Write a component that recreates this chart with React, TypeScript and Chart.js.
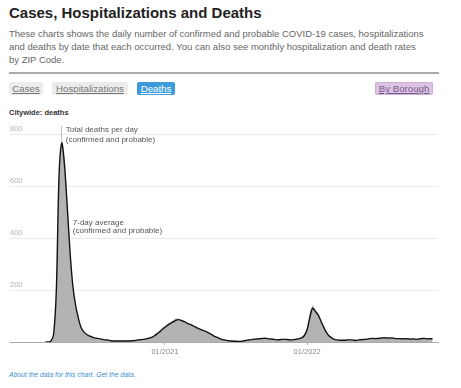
import React, { useEffect, useRef } from "react";
import { Chart, registerables } from "chart.js";

Chart.register(...registerables);

// ---- data ----
const startDate = "2020-02-29"; // first weekly sample
const stepDays = 7;
const avgDeaths = [
  0, 0, 3, 30, 200, 640, 765, 680, 520, 350,
  220, 145, 95, 58, 40, 30, 24, 20, 16, 14,
  12, 10, 8, 7, 5, 4, 4, 4, 4, 4,
  4, 4, 5, 6, 8, 9, 10, 12, 15, 18,
  24, 32, 40, 50, 58, 66, 73, 78, 84, 86,
  82, 78, 72, 68, 63, 58, 52, 48, 44, 40,
  34, 28, 22, 18, 13, 9, 7, 5, 4, 3,
  3, 2, 3, 5, 7, 8, 10, 11, 12, 13,
  14, 14, 12, 11, 10, 8, 9, 10, 10, 9,
  8, 9, 11, 13, 16, 25, 48, 95, 130, 118,
  105, 82, 58, 38, 24, 16, 10, 8, 7, 7,
  7, 8, 8, 7, 6, 8, 9, 10, 11, 13,
  14, 13, 14, 15, 16, 16, 15, 16, 14, 13,
  13, 12, 13, 12, 11, 12, 10, 12, 13, 14,
  12, 13, 12,
];
const dailyDeaths = [
  0, 0, 1, 18, 170, 610, 780, 700, 505, 330,
  205, 130, 85, 52, 36, 27, 22, 18, 14, 12,
  10, 9, 7, 6, 5, 4, 3, 5, 4, 3,
  4, 4, 5, 6, 7, 9, 10, 12, 14, 19,
  25, 33, 41, 52, 60, 70, 76, 84, 92, 85,
  86, 76, 74, 66, 64, 56, 52, 46, 43, 38,
  32, 27, 20, 16, 12, 8, 6, 5, 4, 3,
  3, 2, 3, 5, 6, 8, 10, 10, 12, 12,
  13, 14, 11, 11, 9, 8, 9, 9, 10, 8,
  8, 9, 10, 12, 15, 24, 52, 110, 142, 122,
  106, 80, 55, 35, 22, 15, 9, 7, 7, 6,
  7, 7, 8, 7, 6, 7, 8, 9, 11, 12,
  13, 13, 13, 14, 15, 15, 14, 15, 14, 12,
  12, 12, 12, 11, 11, 11, 10, 11, 12, 13,
  12, 12, 11,
];
const axisStart = "2019-11-30";
const axisEnd = "2022-12-03";
const xTickDates = ["2021-01-01", "2022-01-01"];
const xTickLabels = ["01/2021", "01/2022"];
const yTicks = [0, 200, 400, 600, 800];
const annotTotal = ["Total deaths per day", "(confirmed and probable)"];
const annotAvg = ["7-day average", "(confirmed and probable)"];
const avgLabelLevel = 460;

const DAY = 86400000;
const base = Date.UTC(2020, 0, 1);
function dayNum(s: string): number {
  const [y, m, d] = s.split("-").map(Number);
  return Math.round((Date.UTC(y, m - 1, d) - base) / DAY);
}

const FONT = '"Liberation Sans", Arial, sans-serif';

function ChartCanvas() {
  const ref = useRef<HTMLCanvasElement | null>(null);
  useEffect(() => {
    if (!ref.current) return;
    const s0 = dayNum(startDate);
    const avgPts = avgDeaths.map((v, i) => ({ x: s0 + i * stepDays, y: v }));
    const dailyPts = dailyDeaths.map((v, i) => ({ x: s0 + i * stepDays, y: v }));
    const tickVals = xTickDates.map(dayNum);

    const annot = {
      id: "annot",
      afterDatasetsDraw(chart: any) {
        const { ctx, chartArea, scales } = chart;
        const xs = scales.x, ys = scales.y;
        let pk = 0;
        dailyDeaths.forEach((v, i) => { if (v > dailyDeaths[pk]) pk = i; });
        const px = xs.getPixelForValue(s0 + pk * stepDays);
        const py = ys.getPixelForValue(dailyDeaths[pk]);
        ctx.save();
        ctx.strokeStyle = "#bdbdbd";
        ctx.lineWidth = 1;
        ctx.beginPath();
        ctx.moveTo(Math.round(px) - 0.5, chartArea.top - 8);
        ctx.lineTo(Math.round(px) - 0.5, py);
        ctx.stroke();
        ctx.fillStyle = "#555";
        ctx.font = `8px ${FONT}`;
        ctx.textAlign = "left";
        ctx.textBaseline = "middle";
        ctx.fillText(annotTotal[0], px + 4, chartArea.top - 4);
        ctx.fillText(annotTotal[1], px + 4, chartArea.top + 5.5);
        const ay = ys.getPixelForValue(avgLabelLevel);
        ctx.fillText(annotAvg[0], px + 11, ay);
        ctx.fillText(annotAvg[1], px + 11, ay + 8.5);
        ctx.restore();
      },
    };

    const chart = new Chart(ref.current, {
      type: "line",
      data: {
        datasets: [
          {
            label: "7-day average",
            data: avgPts,
            borderColor: "#111",
            borderWidth: 1.4,
            tension: 0.3,
            pointRadius: 0,
            fill: false,
            order: 0,
          },
          {
            label: "Total deaths per day",
            data: dailyPts,
            borderColor: "#c4c4c4",
            borderWidth: 0.6,
            backgroundColor: "#b3b3b3",
            tension: 0,
            pointRadius: 0,
            fill: "origin",
            order: 1,
          },
        ],
      },
      options: {
        animation: false,
        responsive: false,
        maintainAspectRatio: false,
        layout: { padding: { left: 10, right: 23, top: 14, bottom: 0 } },
        plugins: { legend: { display: false }, tooltip: { enabled: false } },
        scales: {
          x: {
            type: "linear",
            min: dayNum(axisStart),
            max: dayNum(axisEnd),
            afterBuildTicks: (sc: any) => {
              sc.ticks = tickVals.map((v) => ({ value: v }));
            },
            afterFit: (sc: any) => { sc.height = 28; },
            ticks: {
              autoSkip: false,
              maxRotation: 0,
              padding: 2,
              color: "#888",
              font: { size: 7.5, family: FONT },
              callback: (v: any) => {
                const i = tickVals.indexOf(Number(v));
                return i >= 0 ? xTickLabels[i] : "";
              },
            },
            grid: { display: true, drawOnChartArea: false, drawTicks: true, tickLength: 3, color: "#aaa" },
            border: { display: true, color: "#aaa", width: 1 },
          },
          y: {
            type: "linear",
            min: yTicks[0],
            max: yTicks[yTicks.length - 1],
            afterBuildTicks: (sc: any) => {
              sc.ticks = yTicks.map((v) => ({ value: v }));
            },
            afterFit: (sc: any) => { sc.width = 0; },
            ticks: {
              mirror: true,
              padding: 0,
              labelOffset: -5,
              color: "#b5b5b5",
              font: { size: 7.5, family: FONT },
              callback: (v: any) => (Number(v) === 0 ? "" : String(v)),
            },
            grid: {
              drawTicks: false,
              color: (c: any) => (c.tick && c.tick.value === 0 ? "rgba(0,0,0,0)" : "#ebebeb"),
            },
            border: { display: false },
          },
        },
      },
      plugins: [annot],
    });
    return () => chart.destroy();
  }, []);
  return (
    <canvas
      ref={ref}
      width={461}
      height={250}
      style={{ position: "absolute", left: 0, top: 120, width: 461, height: 250, display: "block" }}
    />
  );
}

const btn: React.CSSProperties = {
  position: "absolute",
  top: 82,
  height: 13,
  lineHeight: "13px",
  fontSize: 9.7,
  borderRadius: 2,
  textAlign: "center",
  textDecoration: "underline",
};

export default function App() {
  return (
    <div
      style={{
        position: "fixed",
        left: 0,
        top: 0,
        width: 461,
        height: 388,
        background: "#fff",
        fontFamily: FONT,
        overflow: "hidden",
      }}
    >
      <div
        style={{
          position: "absolute", left: 9, top: 4, fontSize: 15, lineHeight: "18px",
          fontWeight: "bold", color: "#222", whiteSpace: "nowrap",
        }}
      >
        Cases, Hospitalizations and Deaths
      </div>
      <div
        style={{
          position: "absolute", left: 9, top: 27, fontSize: 9.5, lineHeight: "13px",
          color: "#666", whiteSpace: "nowrap",
        }}
      >
        These charts shows the daily number of confirmed and probable COVID-19 cases, hospitalizations
        <br />
        and deaths by date that each occurred. You can also see monthly hospitalization and death rates
        <br />
        by ZIP Code.
      </div>
      <div style={{ position: "absolute", left: 9, top: 72, width: 430, height: 2, background: "#aaa" }} />
      <div style={{ ...btn, left: 9, width: 34, background: "#ececec", color: "#777" }}>Cases</div>
      <div style={{ ...btn, left: 52, width: 76, background: "#ececec", color: "#777" }}>Hospitalizations</div>
      <div style={{ ...btn, left: 137, width: 38, background: "#3d9bd9", color: "#fff" }}>Deaths</div>
      <div
        style={{
          ...btn, left: 375, width: 58, background: "#dcc3e2", color: "#7a5a8c",
          boxShadow: "inset 0 0 0 1px #cdb0d5",
        }}
      >
        By Borough
      </div>
      <div
        style={{
          position: "absolute", left: 9, top: 108, fontSize: 7.5, lineHeight: "10px",
          fontWeight: "bold", color: "#333", whiteSpace: "nowrap",
        }}
      >
        Citywide: deaths
      </div>
      <ChartCanvas />
      <div
        style={{
          position: "absolute", left: 9, top: 370, fontSize: 6.8, lineHeight: "10px",
          fontStyle: "italic", color: "#3b8fd2", whiteSpace: "nowrap",
        }}
      >
        About the data for this chart. Get the data.
      </div>
    </div>
  );
}
